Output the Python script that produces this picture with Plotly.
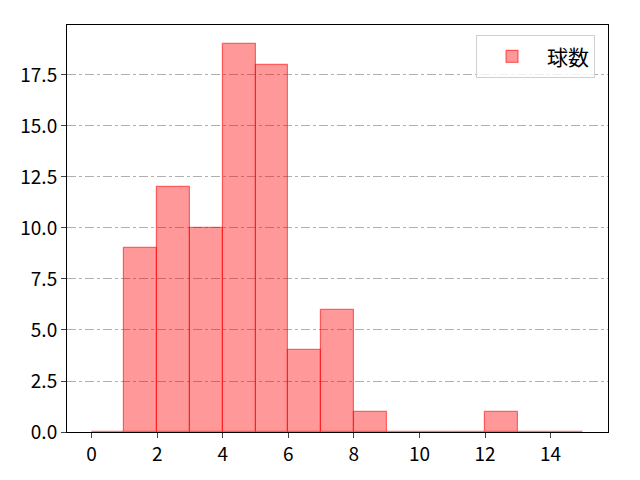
import plotly.graph_objects as go

bin_edges = list(range(16))
counts = [0, 9, 12, 10, 19, 18, 4, 6, 1, 0, 0, 0, 1, 0, 0]
series_name = '球数'

centers = [(bin_edges[i] + bin_edges[i + 1]) / 2 for i in range(len(counts))]

fig = go.Figure()
fig.add_trace(go.Bar(x=centers, y=counts, width=1, name=series_name,
                     marker=dict(color='rgba(255,0,0,0.4)',
                                 line=dict(color='rgba(255,0,0,0.55)', width=1.2))))

fig.update_layout(
    width=640, height=480,
    margin=dict(l=57, r=40, t=17, b=56),
    plot_bgcolor='white', paper_bgcolor='white',
    font=dict(family='Noto Sans CJK JP', size=19, color='black'),
    showlegend=True,
    legend=dict(x=0.976, y=0.975, xanchor='right', yanchor='top',
                bgcolor='rgba(255,255,255,0.8)', bordercolor='#d0d0d0', borderwidth=1,
                font=dict(size=21), itemwidth=60),
    bargap=0,
)
fig.update_xaxes(range=[-0.75, 15.75], tickvals=[0, 2, 4, 6, 8, 10, 12, 14],
                 showline=True, linecolor='black', mirror=True, showgrid=False,
                 ticks='outside', ticklen=5, zeroline=False)
fig.update_yaxes(range=[0, 19.95], tickvals=[0, 2.5, 5, 7.5, 10, 12.5, 15, 17.5],
                 ticktext=['0.0', '2.5', '5.0', '7.5', '10.0', '12.5', '15.0', '17.5'],
                 showline=True, linecolor='black', mirror=True,
                 showgrid=True, gridcolor='#b0b0b0', griddash='dashdot', gridwidth=1,
                 ticks='outside', ticklen=5, zeroline=False)

fig.write_html('out.html')
